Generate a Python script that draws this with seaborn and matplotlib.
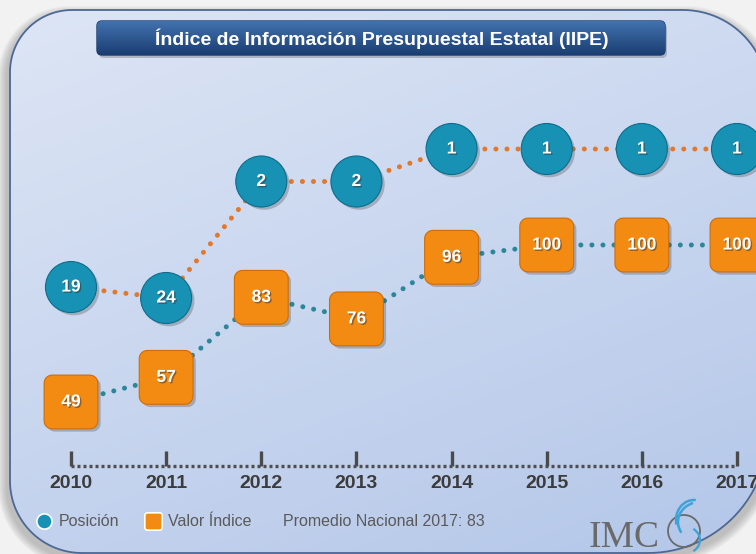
import numpy as np
import pandas as pd
import seaborn as sns
import matplotlib.pyplot as plt
import matplotlib.patheffects as pe
from matplotlib.patches import FancyBboxPatch, PathPatch, Arc
from matplotlib.path import Path
from matplotlib.lines import Line2D

# data
years = [2010, 2011, 2012, 2013, 2014, 2015, 2016, 2017]
posicion = [19, 24, 2, 2, 1, 1, 1, 1]
valor_indice = [49, 57, 83, 76, 96, 100, 100, 100]
titulo = 'Índice de Información Presupuestal Estatal (IIPE)'
nota = 'Promedio Nacional 2017: 83'
leyenda = ['Posición', 'Valor Índice']

df = pd.DataFrame({'Año': years, 'Posición': posicion, 'Valor Índice': valor_indice})

sns.set_theme(style='white')
plt.rcParams['font.family'] = ['Liberation Sans', 'DejaVu Sans']

TEAL = '#1791b4'
TEAL_DARK = '#0e6d8c'
ORANGE = '#f38b12'
ORANGE_DARK = '#cf6c08'
DOT_ORANGE = '#e2782c'
DOT_TEAL = '#2a8799'

W, H = 756, 554
fig = plt.figure(figsize=(W / 100, H / 100), dpi=100)
fig.patch.set_facecolor('#f2f2f2')


def rounded_path(x0, y0, x1, y1, r_tl, r_tr, r_br, r_bl, n=30):
    # y grows downward in the background axes
    pts = []

    def arc(cx, cy, r, a0, a1):
        for a in np.linspace(a0, a1, n):
            pts.append((cx + r * np.cos(np.radians(a)), cy + r * np.sin(np.radians(a))))

    arc(x0 + r_tl, y0 + r_tl, r_tl, 180, 270)
    arc(x1 - r_tr, y0 + r_tr, r_tr, 270, 360)
    arc(x1 - r_br, y1 - r_br, r_br, 0, 90)
    arc(x0 + r_bl, y1 - r_bl, r_bl, 90, 180)
    pts.append(pts[0])
    return Path(pts, closed=True)


def rounded_square(r=0.3, n=8):
    pts = []
    for cx, cy, a0 in [(1 - r, 1 - r, 0), (-1 + r, 1 - r, 90), (-1 + r, -1 + r, 180), (1 - r, -1 + r, 270)]:
        for a in np.linspace(a0, a0 + 90, n):
            pts.append((cx + r * np.cos(np.radians(a)), cy + r * np.sin(np.radians(a))))
    pts.append(pts[0])
    return Path(pts, closed=True)


# background panel
bg = fig.add_axes([0, 0, 1, 1])
bg.set_xlim(0, W)
bg.set_ylim(H, 0)
bg.axis('off')

for i in range(9):
    g = 9 - i
    bg.add_patch(PathPatch(rounded_path(10 - g - 3, 10 - g + 5, 768 + g + 3, 553 + g + 5,
                                        62 + g, 85 + g, 120 + g, 72 + g),
                           fc='#5f5f5f', ec='none', alpha=0.045, zorder=0))

panel_path = rounded_path(10, 10, 768, 553, 62, 85, 120, 72)
panel = PathPatch(panel_path, fc='none', ec='#4d6894', lw=1.3, zorder=3)
bg.add_patch(panel)
yy, xx = np.mgrid[0:1:200j, 0:1:200j]
t = 0.65 * yy + 0.35 * xx
c0 = np.array([222, 230, 245]) / 255
c1 = np.array([180, 199, 233]) / 255
img = c0 + (c1 - c0) * t[..., None]
im = bg.imshow(img, extent=(0, W, H, 0), zorder=1, aspect='auto')
im.set_clip_path(panel)

# title bar
bg.add_patch(FancyBboxPatch((99, 24), 568, 34, boxstyle='round,pad=0,rounding_size=5',
                            fc='#333333', ec='none', alpha=0.25, zorder=4))
bar = FancyBboxPatch((97, 21), 568, 34, boxstyle='round,pad=0,rounding_size=5',
                     fc='#24508a', ec='#173b6b', lw=1, zorder=4)
bg.add_patch(bar)
gy = np.linspace(0, 1, 60)[:, None, None]
b0 = np.array([66, 114, 174]) / 255
b1 = np.array([26, 62, 114]) / 255
bar_img = np.repeat(b0 + (b1 - b0) * gy, 2, axis=1)
bim = bg.imshow(bar_img, extent=(97, 665, 55, 21), zorder=4.5, aspect='auto')
bim.set_clip_path(bar)
bg.text(382, 38.5, titulo, ha='center', va='center', color='white', fontsize=14,
        fontweight='bold', zorder=6)

# chart axes: squares on value scale, circles on an inverted log rank scale
ax = fig.add_axes([0, 0, 1, 1])
ax.patch.set_alpha(0)
x_first, x_last = 71, 737
step = (x_last - x_first) / (len(years) - 1)
ax.set_xlim(years[0] - x_first / step, years[-1] + (W - x_last) / step)

v_a, py_a, v_b, py_b = 49, 402, 100, 245
k = (py_a - py_b) / (v_b - v_a)
ax.set_ylim(v_a - (H - py_a) / k, v_a + py_a / k)

ax2 = ax.twinx()
ax2.set_yscale('log')
q = (298 - 149) / np.log(24)
ax2.set_ylim(np.exp((H - 149) / q), np.exp(-149 / q))

dots = dict(lw=3.6, linestyle=(0, (0.01, 2.2)), dash_capstyle='round', legend=False, zorder=2)
sns.lineplot(data=df, x='Año', y='Valor Índice', ax=ax, color=DOT_TEAL, **dots)
sns.lineplot(data=df, x='Año', y='Posición', ax=ax2, color=DOT_ORANGE, **dots)

shadow = [pe.SimplePatchShadow(offset=(2, -2), shadow_rgbFace='#444444', alpha=0.3), pe.Normal()]
sq = rounded_square()
sns.scatterplot(data=df, x='Año', y='Valor Índice', ax=ax, marker=sq, s=1500, color=ORANGE,
                edgecolor=ORANGE_DARK, linewidth=0.8, zorder=3, legend=False, path_effects=shadow)
sns.scatterplot(data=df, x='Año', y='Posición', ax=ax2, marker='o', s=1350, color=TEAL,
                edgecolor=TEAL_DARK, linewidth=0.8, zorder=3, legend=False, path_effects=shadow)

txt_fx = [pe.SimplePatchShadow(offset=(1, -1), shadow_rgbFace='#333333', alpha=0.5), pe.Normal()]
for yr, v in zip(years, valor_indice):
    ax.text(yr, v, str(v), ha='center', va='center', color='white', fontsize=12.5,
            fontweight='bold', zorder=5, path_effects=txt_fx)
for yr, p in zip(years, posicion):
    ax2.text(yr, p, str(p), ha='center', va='center', color='white', fontsize=12.5,
             fontweight='bold', zorder=5, path_effects=txt_fx)

# x axis: dotted baseline with upward ticks
y_spine = v_a + (py_a - 466) / k
for s in ['top', 'left', 'right']:
    ax.spines[s].set_visible(False)
for s in ax2.spines.values():
    s.set_visible(False)
sp = ax.spines['bottom']
sp.set_position(('data', y_spine))
sp.set_visible(False)
ax.hlines(y_spine, years[0], years[-1], colors='#4e4e4e', linewidth=2.4,
          linestyles=(0, (0.9, 0.9)), zorder=2)
ax.set_xticks(years)
ax.set_xticklabels([str(y) for y in years])
ax.tick_params(axis='x', bottom=True, direction='in', length=11, width=2.4, color='#4a4a4a',
               pad=6.5, labelsize=14, labelcolor='#3c3c3c')
for lab in ax.get_xticklabels():
    lab.set_fontweight('bold')
ax.set_yticks([])
ax2.set_yticks([])
ax2.set_yticks([], minor=True)
ax.set_xlabel('')
ax.set_ylabel('')
ax2.set_ylabel('')

# legend and note
handles = [Line2D([], [], marker='o', ls='none', markersize=11, markerfacecolor=TEAL,
                  markeredgecolor='white', markeredgewidth=1.2),
           Line2D([], [], marker=sq, ls='none', markersize=12.5, markerfacecolor=ORANGE,
                  markeredgecolor='white', markeredgewidth=1.2)]
fig.legend(handles, leyenda, loc='center left', bbox_to_anchor=(36 / W, 1 - 522 / H), ncol=2,
           frameon=False, fontsize=11.5, handlelength=1.0, handletextpad=0.45, columnspacing=1.6,
           borderpad=0, borderaxespad=0, labelcolor='#5a5a5a')
bg.text(283, 522, nota, ha='left', va='center', fontsize=11.5, color='#5a5a5a', zorder=6)

# logo
bg.text(589, 547, 'IMC', ha='left', va='baseline', fontsize=27, color='#6a6a6a',
        family=['Liberation Serif', 'DejaVu Serif'], zorder=6)
bg.add_patch(Arc((684, 531), 32, 32, theta1=0, theta2=360, color='#6a6a6a', lw=1.3, zorder=6))
bg.add_patch(Arc((700, 522), 44, 40, theta1=150, theta2=250, color='#3fa3d8', lw=1.8, zorder=6))
bg.add_patch(Arc((694, 520), 36, 40, theta1=165, theta2=275, color='#3fa3d8', lw=1.8, zorder=6))
bg.add_patch(Arc((680, 540), 40, 30, theta1=-40, theta2=40, color='#3fa3d8', lw=1.6, zorder=6))

fig.savefig('out.png', dpi=100, facecolor=fig.get_facecolor())
